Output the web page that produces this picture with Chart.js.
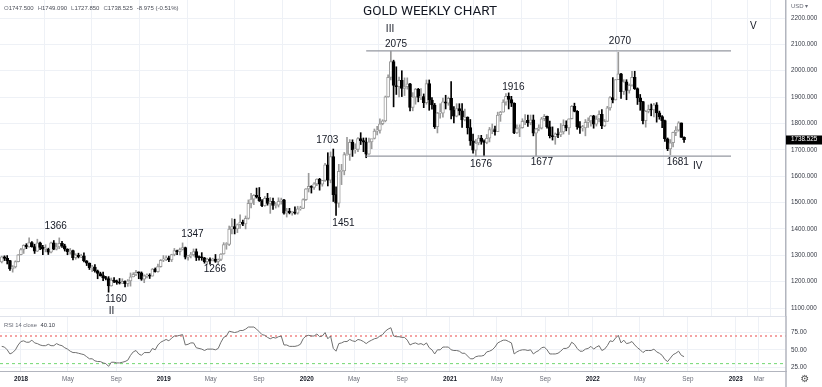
<!DOCTYPE html>
<html><head><meta charset="utf-8">
<script src="https://cdn.jsdelivr.net/npm/chart.js@4.4.1/dist/chart.umd.min.js"></script>
<style>
html,body{margin:0;padding:0;background:#fff;}
#wrap{position:relative;width:822px;height:387px;overflow:hidden;background:#fff;}
#top{position:absolute;left:0;top:0;width:822px;height:316px;}
#bot{position:absolute;left:0;top:316px;width:822px;height:71px;}
</style></head><body>
<div id="wrap"><div id="top"><canvas id="c1"></canvas></div><div id="bot"><canvas id="c2"></canvas></div></div>
<script>
// ---------------- DATA ----------------
const firstBarDate = '2017-11-13'; // weekly bars, one per week from this Monday
const opens = [1275,1294,1288,1280,1248,1256,1276,
1302,1322,1338,1332,1348,1333,1316,1347,1330,1323,1323,1312,1347,1323,1332,1345,1336,1323,1314,1318,1291,1301,1294,1298,1279,1270,1253,1255,1241,1231,1223,1214,1212,1184,1206,1201,1197,1194,1201,1192,1203,1218,1228,1235,1233,1209,1222,1222,1221,1248,1238,1257,
1281,1286,1290,1282,1303,1318,1314,1322,1329,1293,1299,1302,1314,1292,1291,1290,1276,1286,1279,1286,1277,1284,1305,1341,1341,1399,1409,1400,1416,1426,1419,1440,1497,1513,1527,1520,1507,1488,1516,1497,1505,1489,1490,1505,1510,1460,1468,1462,1464,1460,1476,1478,
1511,1552,1562,1557,1571,1589,1570,1584,1643,1585,1674,1530,1498,1618,1620,1682,1683,1728,1700,1702,1743,1735,1729,1684,1730,1743,1771,1774,1799,1810,1901,1975,2035,1944,1940,1964,1933,1940,1950,1861,1900,1930,1899,1902,1879,1951,1889,1870,1788,1839,1839,1882,
1877,1895,1850,1828,1856,1848,1813,1824,1784,1734,1699,1726,1745,1732,1728,1744,1777,1777,1769,1832,1843,1881,1903,1891,1877,1764,1781,1784,1808,1812,1802,1814,1763,1780,1782,1818,1827,1787,1754,1750,1761,1757,1768,1793,1783,1818,1865,1846,1788,1783,1783,1804,
1810,1829,1797,1817,1835,1791,1808,1859,1898,1889,1966,1988,1921,1958,1925,1945,1975,1932,1897,1883,1811,1846,1853,1851,1871,1840,1826,1811,1742,1703,1727,1766,1775,1802,1747.5];
const highs = [1297,1298,1299,1281,1261,1279,1303,
1326,1340,1344,1366,1352,1342,1361,1350,1338,1340,1327,1350,1356,1346,1366,1353,1342,1325,1326,1320,1306,1308,1304,1309,1280,1271,1262,1265,1244,1236,1236,1220,1219,1214,1215,1206,1212,1211,1203,1208,1233,1234,1243,1237,1237,1226,1230,1230,1250,1252,1267,1284,
1299,1298,1297,1304,1326,1320,1327,1347,1331,1300,1311,1324,1324,1298,1310,1292,1289,1290,1289,1303,1286,1306,1348,1348,1411,1439,1437,1419,1453,1434,1449,1510,1535,1530,1555,1557,1511,1523,1535,1519,1517,1500,1518,1517,1512,1478,1478,1466,1484,1486,1486,1514,
1553,1611,1564,1576,1590,1592,1584,1649,1689,1692,1703,1560,1645,1645,1690,1747,1739,1738,1723,1746,1765,1745,1745,1745,1739,1779,1789,1818,1814,1904,1984,2075,2040,2015,1976,2000,1973,1973,1952,1917,1933,1933,1932,1912,1965,1965,1898,1876,1842,1875,1896,1907,
1900,1959,1864,1875,1875,1875,1855,1825,1815,1760,1739,1755,1755,1738,1758,1785,1798,1790,1843,1846,1890,1913,1916,1903,1878,1795,1795,1818,1834,1832,1832,1832,1782,1795,1823,1834,1828,1809,1787,1764,1781,1800,1814,1810,1818,1868,1877,1849,1807,1793,1815,1821,
1831,1831,1829,1848,1853,1815,1865,1902,1974,1966,2070,1990,1966,1966,1950,1998,1998,1935,1910,1884,1849,1870,1874,1876,1879,1847,1830,1813,1745,1739,1767,1788,1807,1802,1749.09];
const lows = [1271,1280,1267,1243,1236,1252,1275,
1301,1307,1325,1331,1331,1307,1314,1321,1302,1313,1303,1309,1321,1320,1325,1330,1316,1302,1304,1282,1285,1290,1291,1275,1261,1246,1238,1236,1211,1221,1204,1207,1160,1183,1196,1190,1191,1193,1180,1182,1183,1218,1223,1211,1205,1196,1214,1212,1221,1236,1236,1255,
1276,1280,1276,1276,1298,1302,1301,1320,1286,1281,1290,1297,1280,1281,1281,1270,1266,1266,1279,1273,1267,1280,1304,1323,1337,1381,1381,1386,1402,1412,1400,1437,1480,1492,1517,1504,1484,1486,1490,1459,1474,1479,1483,1494,1456,1445,1457,1452,1456,1456,1471,1477,
1508,1540,1536,1550,1564,1547,1562,1580,1563,1575,1504,1451,1482,1568,1605,1680,1660,1675,1687,1693,1720,1693,1670,1683,1704,1741,1757,1763,1795,1806,1900,1965,1863,1910,1901,1902,1906,1930,1848,1848,1873,1882,1890,1860,1873,1850,1854,1781,1764,1820,1824,1855,
1869,1817,1802,1825,1832,1785,1810,1760,1717,1687,1676,1719,1721,1677,1723,1730,1761,1756,1769,1808,1843,1869,1855,1864,1761,1762,1750,1782,1795,1789,1795,1753,1677,1772,1779,1810,1782,1745,1737,1721,1746,1750,1760,1772,1758,1817,1844,1778,1762,1771,1753,1785,
1790,1782,1790,1806,1780,1788,1808,1850,1878,1889,1966,1895,1910,1890,1915,1941,1929,1872,1850,1798,1786,1840,1829,1825,1805,1816,1784,1732,1697,1681,1711,1754,1771,1747,1727.85];
const closes = [1294,1288,1280,1248,1256,1276,1302,
1322,1338,1332,1348,1333,1316,1347,1330,1323,1323,1312,1347,1323,1332,1345,1336,1323,1314,1318,1291,1301,1294,1298,1279,1270,1253,1255,1241,1231,1223,1214,1212,1184,1206,1201,1197,1194,1201,1192,1203,1218,1228,1235,1233,1209,1222,1222,1221,1248,1238,1257,1281,
1286,1290,1282,1303,1318,1314,1322,1329,1293,1299,1302,1314,1292,1291,1290,1276,1286,1279,1286,1277,1284,1305,1341,1341,1399,1409,1400,1416,1426,1419,1440,1497,1513,1527,1520,1507,1488,1516,1497,1505,1489,1490,1505,1510,1460,1468,1462,1464,1460,1476,1478,1511,
1552,1562,1557,1571,1589,1570,1584,1643,1585,1674,1530,1498,1618,1620,1682,1683,1728,1700,1702,1743,1735,1729,1684,1730,1743,1771,1774,1799,1810,1901,1975,2035,1944,1940,1964,1933,1940,1950,1861,1900,1930,1899,1902,1879,1951,1889,1870,1788,1839,1839,1882,1877,
1895,1850,1828,1856,1848,1813,1824,1784,1734,1699,1726,1745,1732,1728,1744,1777,1777,1769,1832,1843,1881,1903,1891,1877,1764,1781,1784,1808,1812,1802,1814,1763,1780,1782,1818,1827,1787,1754,1750,1761,1757,1768,1793,1783,1818,1865,1846,1788,1783,1783,1804,1810,
1829,1797,1817,1835,1791,1808,1859,1898,1889,1966,1988,1921,1958,1925,1945,1975,1932,1897,1883,1811,1846,1853,1851,1871,1840,1826,1811,1742,1703,1727,1766,1775,1802,1747,1738.525];
const rsi14 = [55,54,50,44,46,50,57,
62,63,61,61,64,60,59,57,56,56,58,56,56,59,57,56,53,51,48,46,46,45,44,43,40,37,37,34,33,33,31,30,26,32,32,31,31,32,33,35,42,47,49,44,42,46,46,46,52,50,57,61,
63,65,63,67,70,70,71,72,57,58,60,60,53,52,51,49,51,51,51,50,52,61,68,70,77,76,75,76,78,78,80,83,83,83,80,76,72,71,68,66,68,67,69,70,57,57,55,55,55,56,58,66,
70,71,70,70,73,69,70,75,66,70,52,48,59,60,62,62,65,63,62,65,64,62,59,62,64,66,67,70,72,77,80,82,70,69,69,68,68,64,57,59,60,58,59,57,60,53,50,44,50,50,54,54,
54,50,49,49,48,45,45,41,37,37,40,41,41,42,47,48,50,54,60,62,64,64,62,60,44,47,49,50,50,49,50,44,47,49,53,54,50,44,44,44,45,48,52,52,54,61,58,52,48,48,51,52,
55,51,54,56,49,51,56,63,62,67,71,60,64,59,60,62,57,53,50,46,49,49,49,51,47,45,42,36,33,38,43,45,48,42,40.1];

const priceTicks = [1100,1200,1300,1400,1500,1600,1700,1800,1900,2000,2100,2200];
const rsiTicks = [25,50,75];
const rsiBands = [70,30];
const tickDates = ['2018-01-01','2018-05-01','2018-09-01','2019-01-01','2019-05-01','2019-09-01','2020-01-01','2020-05-01','2020-09-01','2021-01-01','2021-05-01','2021-09-01','2022-01-01','2022-05-01','2022-09-01','2023-01-01','2023-03-01'];
const tickLabels = ['2018','May','Sep','2019','May','Sep','2020','May','Sep','2021','May','Sep','2022','May','Sep','2023','Mar'];
const levelPrices = [2075,1676];
const levelFrom = '2020-06-01', levelTo = '2022-12-20';
// annotations: text, week offset from 2018-01-01, price
const noteText  = ['III','2075','1916','1676','1677','2070','1681','IV','V','1703','1451','1366','1347','1266','1160','II'];
const noteWeek  = [134.7,136.9,179.7,167.9,190.1,218.6,239.7,247,267.3,111.8,117.7,12.7,62.6,70.8,34.7,33.1];
const notePrice = [2158,2101,1937,1646,1651,2110,1653,1636,2167,1737,1421,1412,1381,1247,1134,1086];
const titleText = 'GOLD WEEKLY CHART';
const legendParts = [['O','1747.500'],['H','1749.090'],['L','1727.850'],['C','1738.525'],['','-8.975 (-0.51%)']];

// ---------------- HELPERS ----------------
const WEEK0 = Date.UTC(2018,0,1), DAY = 86400000;
function weekOf(s){const p=s.split('-').map(Number);return (Date.UTC(p[0],p[1]-1,p[2])-WEEK0)/(7*DAY);}
const w0 = weekOf(firstBarDate);
const weeks = closes.map((_,k)=>w0+k);
const X_MIN = -7.63, X_MAX = 279.2;
const tickWeeks = tickDates.map(weekOf);
const FONT = "'Liberation Sans', Arial, sans-serif";
const GRID = '#eef1f6';
const AXISW = 36;
const isUp = closes.map((c,k)=>c>=opens[k]);
const UPC = '#9a9a9a', DNC = '#000000';

Chart.defaults.font.family = FONT;
const xCommon = {
  type:'linear', min:X_MIN, max:X_MAX, offset:false,
  afterBuildTicks:s=>{s.ticks=tickWeeks.map(v=>({value:v}));},
  grid:{color:GRID, drawTicks:false}, border:{display:false}
};
function yFit(s){s.width=AXISW; s.paddingTop=0; s.paddingBottom=0;}

// ---------------- PRICE PANE ----------------
const topPlugin = {
  id:'topdeco',
  afterDraw(chart){
    const ctx=chart.ctx, xs=chart.scales.x, ys=chart.scales.y, ca=chart.chartArea;
    ctx.save();
    ctx.fillStyle='#131722'; ctx.font='10px '+FONT; ctx.textAlign='center'; ctx.textBaseline='middle';
    noteText.forEach((t,k)=>ctx.fillText(t, xs.getPixelForValue(noteWeek[k]), ys.getPixelForValue(notePrice[k])));
    ctx.font='13.5px Roboto, '+FONT; ctx.fillStyle='#131722';
    ctx.fillText(titleText, 430, 12);
    ctx.font='6px '+FONT; ctx.textAlign='left';
    let x=4;
    legendParts.forEach(p=>{
      if(p[0]){ctx.fillStyle='#6a6d78';ctx.fillText(p[0],x,8);x+=ctx.measureText(p[0]).width;}
      ctx.fillStyle='#4a4d57';ctx.fillText(p[1],x,8);x+=ctx.measureText(p[1]).width+4;
    });
    ctx.fillStyle='#6a6d78'; ctx.fillText('USD \u25BE', ca.right+5, 6);
    const last=closes[closes.length-1], yy=ys.getPixelForValue(last);
    ctx.fillStyle='#000'; ctx.fillRect(ca.right, Math.round(yy)-4.5, AXISW, 9);
    ctx.fillStyle='#fff'; ctx.font='6.3px '+FONT; ctx.fillText(last.toFixed(3), ca.right+5, yy);
    ctx.restore();
  }
};

new Chart(document.getElementById('c1'),{
  type:'bar',
  data:{datasets:[
    {type:'line', data:[{x:weekOf(levelFrom),y:levelPrices[0]},{x:weekOf(levelTo),y:levelPrices[0]}], borderColor:'#9598a1', borderWidth:1.2, pointRadius:0, order:-1},
    {type:'line', data:[{x:weekOf(levelFrom),y:levelPrices[1]},{x:weekOf(levelTo),y:levelPrices[1]}], borderColor:'#9598a1', borderWidth:1.2, pointRadius:0, order:-1},
    {label:'body', data:weeks.map((w,k)=>({x:w,y:[opens[k],closes[k]]})), grouped:false, barThickness:3, minBarLength:1,
      backgroundColor:isUp.map(u=>u?'#ffffff':DNC), borderColor:isUp.map(u=>u?UPC:DNC), borderWidth:1, borderSkipped:false, order:0},
    {label:'wick', data:weeks.map((w,k)=>({x:w,y:[lows[k],highs[k]]})), grouped:false, barThickness:1,
      backgroundColor:isUp.map(u=>u?UPC:DNC), borderWidth:0, order:1}
  ]},
  options:{
    responsive:true, maintainAspectRatio:false, devicePixelRatio:1, animation:false, events:[],
    layout:{padding:0},
    plugins:{legend:{display:false}, tooltip:{enabled:false}},
    scales:{
      x:Object.assign({}, xCommon, {ticks:{display:false}, afterFit:s=>{s.height=0; s.paddingLeft=0; s.paddingRight=0;}}),
      y:{position:'right', min:1069.7, max:2268.3,
        afterBuildTicks:s=>{s.ticks=priceTicks.map(v=>({value:v}));},
        afterFit:yFit,
        ticks:{callback:v=>Number(v).toFixed(3), font:{size:6.3}, color:'#363a45', padding:5},
        grid:{color:GRID, drawTicks:false}, border:{display:true, color:'#b2b5be', width:1.5}}
    }
  },
  plugins:[topPlugin]
});

// ---------------- RSI PANE ----------------
const botPlugin = {
  id:'botdeco',
  afterDraw(chart){
    const ctx=chart.ctx, ca=chart.chartArea;
    ctx.save();
    ctx.strokeStyle='#e0e3eb'; ctx.lineWidth=1;
    ctx.beginPath(); ctx.moveTo(0,0.5); ctx.lineTo(ca.right,0.5); ctx.stroke();
    ctx.strokeStyle='#b2b5be'; ctx.lineWidth=1.5;
    ctx.beginPath(); ctx.moveTo(ca.right,0); ctx.lineTo(ca.right,chart.height); ctx.stroke();
    ctx.font='5.8px '+FONT; ctx.textBaseline='middle'; ctx.textAlign='left';
    ctx.fillStyle='#6a6d78'; ctx.fillText('RSI 14 close', 4, 9);
    const w=ctx.measureText('RSI 14 close ').width+2;
    ctx.fillStyle='#363a45'; ctx.fillText(rsi14[rsi14.length-1].toFixed(2), 4+w, 9);
    ctx.font='10px DejaVu Sans'; ctx.textAlign='center'; ctx.fillStyle='#555';
    ctx.fillText('\u2699', 805, 63);
    ctx.restore();
  }
};

new Chart(document.getElementById('c2'),{
  type:'line',
  data:{datasets:[
    {data:weeks.map((w,k)=>({x:w,y:rsi14[k]})), borderColor:'#6f6f6f', borderWidth:1, pointRadius:0, tension:0},
    {data:[{x:X_MIN,y:rsiBands[0]},{x:X_MAX,y:rsiBands[0]}], borderColor:'#f5a3a3', borderWidth:2, borderDash:[2,3], pointRadius:0},
    {data:[{x:X_MIN,y:rsiBands[1]},{x:X_MAX,y:rsiBands[1]}], borderColor:'#72d872', borderWidth:1, borderDash:[3,3], pointRadius:0}
  ]},
  options:{
    responsive:true, maintainAspectRatio:false, devicePixelRatio:1, animation:false, events:[],
    layout:{padding:0},
    plugins:{legend:{display:false}, tooltip:{enabled:false}},
    scales:{
      x:Object.assign({}, xCommon, {
        afterFit:s=>{s.height=16; s.paddingLeft=0; s.paddingRight=0;},
        border:{display:true, color:'#b2b5be', width:1},
        ticks:{autoSkip:false, maxRotation:0, padding:4.5,
          callback:(v,i)=>tickLabels[i],
          font:c=>({size:6.3, weight:(/^\d{4}$/.test(tickLabels[c.index]))?'bold':'normal'}),
          color:c=>(/^\d{4}$/.test(tickLabels[c.index])?'#131722':'#6a6d78')}
      }),
      y:{position:'right', min:19.3, max:99,
        afterBuildTicks:s=>{s.ticks=rsiTicks.map(v=>({value:v}));},
        afterFit:yFit,
        ticks:{callback:v=>Number(v).toFixed(2), font:{size:6.3}, color:'#363a45', padding:5},
        grid:{color:GRID, drawTicks:false}, border:{display:false}}
    }
  },
  plugins:[botPlugin]
});
</script>
</body></html>
